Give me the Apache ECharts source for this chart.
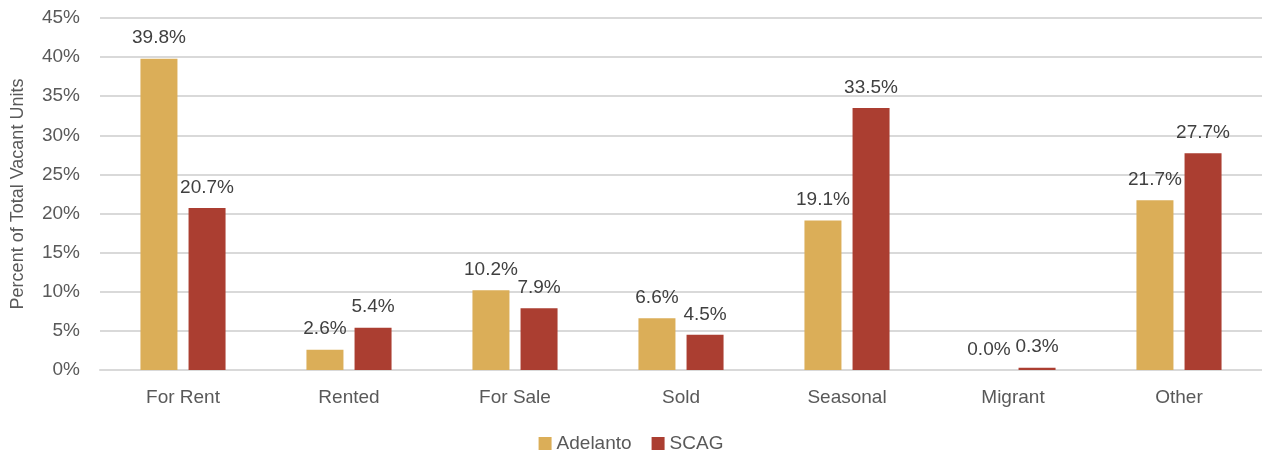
<!DOCTYPE html>
<html>
<head>
<meta charset="utf-8">
<script src="https://cdn.jsdelivr.net/npm/echarts@6/dist/echarts.min.js"></script>
<style>html,body{margin:0;padding:0;background:#fff}#c{width:1262px;height:453px}</style>
</head>
<body>
<div id="c"></div>
<script>
const categories = ['For Rent','Rented','For Sale','Sold','Seasonal','Migrant','Other'];
const adelanto = [39.8, 2.6, 10.2, 6.6, 19.1, 0.0, 21.7];
const scag = [20.7, 5.4, 7.9, 4.5, 33.5, 0.3, 27.7];
const yTicks = [0,5,10,15,20,25,30,35,40,45];

const font = 'Liberation Sans, Arial, sans-serif';
const txt = '#595959';
const chart = echarts.init(document.getElementById('c'));
chart.setOption({
  animation: false,
  textStyle: {fontFamily: font},
  grid: {left: 100, right: 0, top: 18, bottom: 83, containLabel: false, outerBoundsMode: 'none'},
  legend: {
    top: 429, left: 'center', itemWidth: 13, itemHeight: 13, itemGap: 20,
    icon: 'rect',
    textStyle: {fontSize: 19, color: txt, fontFamily: font},
    data: ['Adelanto','SCAG']
  },
  xAxis: {
    type: 'category', data: categories,
    axisLine: {show: true, lineStyle: {color: '#d9d9d9', width: 2}},
    axisTick: {show: false},
    axisLabel: {fontSize: 19, color: txt, margin: 18, fontFamily: font}
  },
  yAxis: {
    type: 'value', min: yTicks[0], max: yTicks[yTicks.length-1], interval: 5,
    name: 'Percent of Total Vacant Units', nameLocation: 'middle', nameGap: 73,
    nameTextStyle: {fontSize: 18, color: txt, fontFamily: font},
    axisLine: {show: false}, axisTick: {show: false},
    splitLine: {lineStyle: {color: '#d9d9d9', width: 2}},
    axisLabel: {fontSize: 19, color: txt, margin: 20, formatter: v => v + '%', fontFamily: font}
  },
  series: [
    {
      name: 'Adelanto', type: 'bar', data: adelanto, barWidth: 37, barGap: '30%',
      itemStyle: {color: '#DBAE58'},
      label: {show: true, position: 'top', distance: 11, fontSize: 19, color: '#404040',
        fontFamily: font, formatter: p => p.value.toFixed(1) + '%'}
    },
    {
      name: 'SCAG', type: 'bar', data: scag, barWidth: 37,
      itemStyle: {color: '#AB3E31'},
      label: {show: true, position: 'top', distance: 11, fontSize: 19, color: '#404040',
        fontFamily: font, formatter: p => p.value.toFixed(1) + '%'}
    }
  ]
});
</script>
</body>
</html>
